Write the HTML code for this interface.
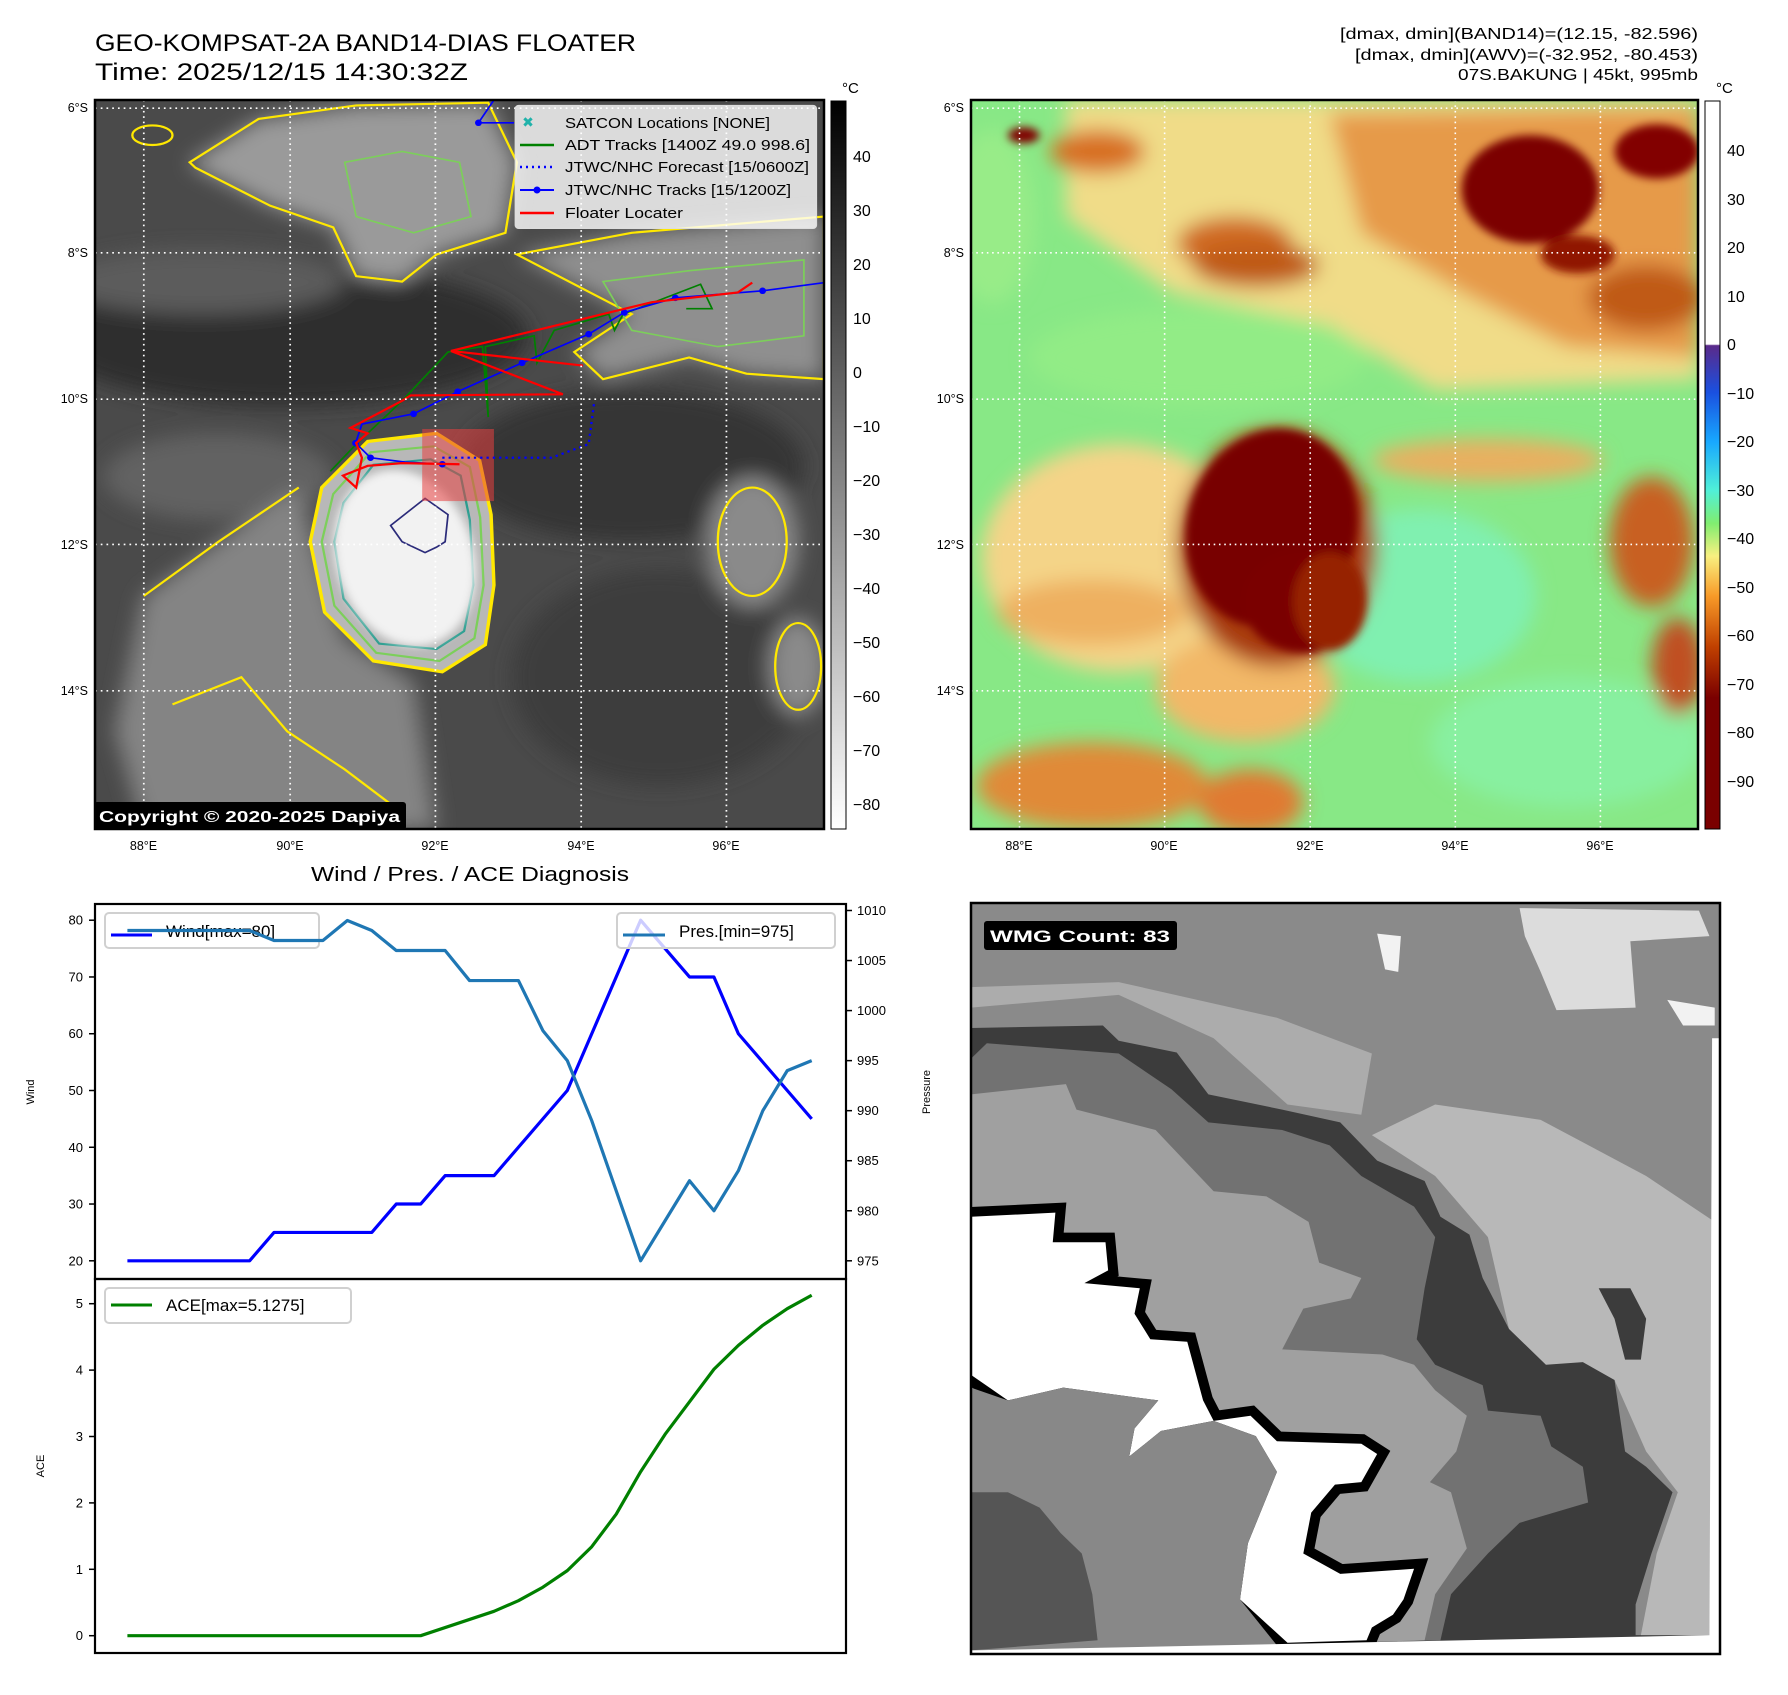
<!DOCTYPE html>
<html><head><meta charset="utf-8">
<style>
html,body{margin:0;padding:0;background:#fff;}
svg text{font-family:"Liberation Sans","DejaVu Sans",sans-serif;}
</style></head>
<body>
<svg id="root" xmlns="http://www.w3.org/2000/svg" width="1788" height="1690" viewBox="0 0 1788 1690">
<defs>
  <filter id="blur1" x="-20%" y="-20%" width="140%" height="140%"><feGaussianBlur stdDeviation="18"/></filter>
  <filter id="blur2" x="-20%" y="-20%" width="140%" height="140%"><feGaussianBlur stdDeviation="8"/></filter>
  <linearGradient id="cbGray" x1="0" y1="0" x2="0" y2="1">
    <stop offset="0" stop-color="#000"/><stop offset="1" stop-color="#fff"/>
  </linearGradient>
  <linearGradient id="cbColor" x1="0" y1="0" x2="0" y2="1">
    <stop offset="0" stop-color="#fff"/>
    <stop offset="0.334" stop-color="#fff"/>
    <stop offset="0.336" stop-color="#5a2a8a"/>
    <stop offset="0.40" stop-color="#1a50e0"/>
    <stop offset="0.468" stop-color="#18a8ff"/>
    <stop offset="0.535" stop-color="#50f0d8"/>
    <stop offset="0.58" stop-color="#80ee70"/>
    <stop offset="0.625" stop-color="#f8f080"/>
    <stop offset="0.68" stop-color="#f89a28"/>
    <stop offset="0.75" stop-color="#c04000"/>
    <stop offset="0.82" stop-color="#7a0000"/>
    <stop offset="1" stop-color="#7a0000"/>
  </linearGradient>
</defs>

<!-- Titles -->
<text x="95" y="51" font-size="24" textLength="541" lengthAdjust="spacingAndGlyphs">GEO-KOMPSAT-2A BAND14-DIAS FLOATER</text>
<text x="95" y="80" font-size="24" textLength="373" lengthAdjust="spacingAndGlyphs">Time: 2025/12/15 14:30:32Z</text>
<text x="1698" y="39" font-size="16" text-anchor="end" textLength="358" lengthAdjust="spacingAndGlyphs">[dmax, dmin](BAND14)=(12.15, -82.596)</text>
<text x="1698" y="60" font-size="16" text-anchor="end" textLength="343" lengthAdjust="spacingAndGlyphs">[dmax, dmin](AWV)=(-32.952, -80.453)</text>
<text x="1698" y="80" font-size="16" text-anchor="end" textLength="240" lengthAdjust="spacingAndGlyphs">07S.BAKUNG | 45kt, 995mb</text>

<!-- MAP 1 -->
<svg x="95" y="100" width="729" height="729" viewBox="165 185 1270 1345" preserveAspectRatio="none">
  <rect x="165" y="185" width="1270" height="1345" fill="#4a4a4a"/>
  <g filter="url(#blur1)">
    <ellipse cx="500" cy="620" rx="420" ry="130" fill="#2e2e2e"/>
    <ellipse cx="1100" cy="860" rx="300" ry="140" fill="#353535"/>
    <ellipse cx="1150" cy="1250" rx="260" ry="200" fill="#3c3c3c"/>
    <ellipse cx="350" cy="520" rx="250" ry="60" fill="#5c5c5c"/>
    <ellipse cx="380" cy="880" rx="200" ry="80" fill="#626262"/>
    <polygon points="330,300 450,220 620,195 850,190 900,300 880,430 760,470 700,520 620,510 580,420 470,380 340,310" fill="#9a9a9a"/>
    <polygon points="900,470 1100,430 1435,400 1435,700 1300,690 1200,660 1050,700 1000,650 1100,580" fill="#8f8f8f"/>
    <polygon points="250,1100 380,1000 520,900 560,1050 600,1180 720,1260 760,1530 250,1530 200,1350" fill="#848484"/>
    <ellipse cx="1310" cy="1000" rx="80" ry="120" fill="#8a8a8a"/>
    <ellipse cx="1390" cy="1230" rx="50" ry="90" fill="#8a8a8a"/>
  </g>
  <g fill="none" stroke="#ffe800" stroke-width="4">
    <polygon points="330,300 450,220 620,195 850,190 900,300 880,430 760,470 700,520 620,510 580,420 470,380 340,310"/>
    <polygon points="900,470 1100,430 1435,400 1435,700 1300,690 1200,660 1050,700 1000,650 1100,580"/>
    <ellipse cx="265" cy="250" rx="35" ry="18"/>
    <ellipse cx="1310" cy="1000" rx="60" ry="100"/>
    <ellipse cx="1390" cy="1230" rx="40" ry="80"/>
    <polyline points="250,1100 380,1000 520,900"/>
    <polyline points="300,1300 420,1250 500,1350 600,1420 700,1500"/>
  </g>
  <g fill="none" stroke="#7ccf5a" stroke-width="3">
    <polygon points="600,300 700,280 800,300 820,400 720,430 620,400"/>
    <polygon points="1050,520 1200,500 1400,480 1400,620 1250,640 1100,610"/>
  </g>
  <path d="M560,900 L640,815 L760,800 L835,850 L855,950 L860,1080 L845,1190 L770,1240 L650,1220 L565,1130 L540,1000 Z" fill="#b8b8b8" stroke="#ffe800" stroke-width="6"/>
  <path d="M580,912 L645,835 L755,824 L818,862 L836,955 L842,1080 L826,1178 L765,1220 L655,1205 L582,1118 L560,1000 Z" fill="none" stroke="#7ccf5a" stroke-width="4"/>
  <path d="M598,928 L650,858 L750,848 L802,878 L818,960 L824,1080 L808,1165 L760,1198 L660,1188 L598,1105 L582,1000 Z" fill="none" stroke="#2a9d8f" stroke-width="4"/>
  <ellipse cx="705" cy="1030" rx="120" ry="165" transform="rotate(-15 705 1030)" fill="#f2f2f2" filter="url(#blur2)"/>
  <path d="M680,970 L740,920 L780,950 L775,1000 L760,1010 L740,1020 L700,1000 Z" fill="none" stroke="#2b2b7a" stroke-width="3"/>
  <rect x="735" y="792" width="125" height="133" fill="#e84040" fill-opacity="0.55"/>
  <polyline points="575,870 620,820 700,740 780,650 840,640 850,770 845,640 930,620 935,670 965,610 1060,580 1070,610 1085,580 1220,525 1240,570 1195,570" fill="none" stroke="#008000" stroke-width="3"/>
  <polyline points="770,845 960,845 1025,820 1035,740" fill="none" stroke="#0000ff" stroke-width="4" stroke-dasharray="4 7"/>
  <polyline points="1435,522 1328,537 1176,550 1087,577 1025,617 909,670 797,723 720,764 630,783 619,818 645,845 705,853 770,857" fill="none" stroke="#0000ff" stroke-width="3"/>
  <polyline points="860,185 833,227 895,227" fill="none" stroke="#0000ff" stroke-width="3"/>
  <g fill="#0000ff">
    <circle cx="1328" cy="537" r="6"/><circle cx="1176" cy="550" r="6"/><circle cx="1087" cy="577" r="6"/><circle cx="1025" cy="617" r="6"/><circle cx="909" cy="670" r="6"/><circle cx="797" cy="723" r="6"/><circle cx="720" cy="764" r="6"/><circle cx="619" cy="818" r="6"/><circle cx="645" cy="845" r="6"/><circle cx="770" cy="857" r="6"/><circle cx="833" cy="227" r="6"/>
  </g>
  <polyline points="1310,522 1285,540 1135,558 785,648 1015,675 785,648 980,728 715,730 700,740 610,790 640,800 620,818 630,845 620,900 597,878 640,860 700,855 800,857" fill="none" stroke="#ff0000" stroke-width="4"/>
  <g stroke="#fff" stroke-width="3" stroke-dasharray="3 7">
    <line x1="250" y1="185" x2="250" y2="1530"/><line x1="505" y1="185" x2="505" y2="1530"/><line x1="758" y1="185" x2="758" y2="1530"/><line x1="1012" y1="185" x2="1012" y2="1530"/><line x1="1265" y1="185" x2="1265" y2="1530"/>
    <line x1="165" y1="200" x2="1435" y2="200"/><line x1="165" y1="467" x2="1435" y2="467"/><line x1="165" y1="737" x2="1435" y2="737"/><line x1="165" y1="1005" x2="1435" y2="1005"/><line x1="165" y1="1275" x2="1435" y2="1275"/>
  </g>
  <g>
    <rect x="897" y="195" width="525" height="227" rx="6" fill="#fff" fill-opacity="0.8" stroke="#ddd" stroke-width="2"/>
  </g>
</svg>
<rect x="95" y="100" width="729" height="729" fill="none" stroke="#000" stroke-width="2.5"/>
<g font-size="14.5">
  <text x="528" y="127" fill="#20b2aa" font-size="14" font-weight="bold" text-anchor="middle">✖</text>
  <text x="565" y="128" textLength="205" lengthAdjust="spacingAndGlyphs">SATCON Locations [NONE]</text>
  <line x1="520" y1="145" x2="554" y2="145" stroke="#008000" stroke-width="2.5"/>
  <text x="565" y="150" textLength="245" lengthAdjust="spacingAndGlyphs">ADT Tracks [1400Z 49.0 998.6]</text>
  <line x1="520" y1="167" x2="554" y2="167" stroke="#0000ff" stroke-width="2.5" stroke-dasharray="2 4"/>
  <text x="565" y="172" textLength="244" lengthAdjust="spacingAndGlyphs">JTWC/NHC Forecast [15/0600Z]</text>
  <line x1="520" y1="190" x2="554" y2="190" stroke="#0000ff" stroke-width="2"/><circle cx="537" cy="190" r="3.5" fill="#0000ff"/>
  <text x="565" y="195" textLength="226" lengthAdjust="spacingAndGlyphs">JTWC/NHC Tracks [15/1200Z]</text>
  <line x1="520" y1="213" x2="554" y2="213" stroke="#ff0000" stroke-width="2.5"/>
  <text x="565" y="218" textLength="118" lengthAdjust="spacingAndGlyphs">Floater Locater</text>
</g>
<rect x="94" y="802" width="312" height="28" rx="3" fill="#000"/>
<text x="99" y="822" font-size="16" font-weight="bold" fill="#fff" textLength="301" lengthAdjust="spacingAndGlyphs">Copyright © 2020-2025 Dapiya</text>

<g font-size="12.5" text-anchor="end">
  <text x="88" y="112">6°S</text><text x="88" y="257">8°S</text><text x="88" y="403">10°S</text><text x="88" y="549">12°S</text><text x="88" y="695">14°S</text>
</g>
<g font-size="12.5" text-anchor="middle">
  <text x="143.5" y="850">88°E</text><text x="290" y="850">90°E</text><text x="435" y="850">92°E</text><text x="581" y="850">94°E</text><text x="726" y="850">96°E</text>
</g>
<rect x="831" y="101" width="15" height="728" fill="url(#cbGray)" stroke="#000" stroke-width="1"/>
<text x="842" y="93" font-size="15">°C</text>
<g font-size="16">
  <text x="853" y="162">40</text><text x="853" y="216">30</text><text x="853" y="270">20</text><text x="853" y="324">10</text><text x="853" y="378">0</text><text x="853" y="432">−10</text><text x="853" y="486">−20</text><text x="853" y="540">−30</text><text x="853" y="594">−40</text><text x="853" y="648">−50</text><text x="853" y="702">−60</text><text x="853" y="756">−70</text><text x="853" y="810">−80</text>
</g>

<!-- MAP 2 -->
<svg x="971" y="100" width="727" height="729" viewBox="20 185 1378 1345" preserveAspectRatio="none">
  <rect x="20" y="185" width="1378" height="1345" fill="#88e886"/>
  <g filter="url(#blur1)">
    <ellipse cx="870" cy="1100" rx="220" ry="160" fill="#80f0b0"/>
    <ellipse cx="1150" cy="1370" rx="260" ry="120" fill="#88f0a0"/>
    <ellipse cx="450" cy="660" rx="320" ry="90" fill="#92ec86"/>
    <polygon points="200,185 1398,185 1398,700 900,720 700,600 400,540 200,400" fill="#f0dc88"/>
    <ellipse cx="60" cy="400" rx="80" ry="160" fill="#98ec88"/>
    <ellipse cx="300" cy="1030" rx="260" ry="210" fill="#f4d488"/>
    <ellipse cx="250" cy="1130" rx="180" ry="60" fill="#eeb060"/>
    <ellipse cx="540" cy="1270" rx="170" ry="100" fill="#f2b868"/>
    <polygon points="700,210 1398,200 1398,660 1150,640 950,540 760,430" fill="#e69a48"/>
    <ellipse cx="260" cy="280" rx="90" ry="40" fill="#d87020"/>
    <ellipse cx="520" cy="450" rx="110" ry="50" fill="#d06a20"/>
    <ellipse cx="560" cy="490" rx="120" ry="40" fill="#c05a18"/>
    <ellipse cx="1300" cy="550" rx="110" ry="60" fill="#c05a18"/>
    <ellipse cx="250" cy="1450" rx="220" ry="80" fill="#e08a38"/>
    <ellipse cx="550" cy="1480" rx="100" ry="60" fill="#e07a30"/>
    <ellipse cx="1310" cy="1000" rx="80" ry="120" fill="#c86020"/>
    <ellipse cx="1360" cy="1230" rx="50" ry="90" fill="#c05020"/>
    <ellipse cx="1000" cy="850" rx="220" ry="40" fill="#e8b060"/>
    <ellipse cx="600" cy="1010" rx="190" ry="220" fill="#a83a08"/>
  </g>
  <g filter="url(#blur2)">
    <ellipse cx="590" cy="975" rx="160" ry="185" transform="rotate(20 590 975)" fill="#780000"/>
    <ellipse cx="650" cy="1110" rx="115" ry="95" fill="#7a0400"/>
    <ellipse cx="700" cy="1110" rx="70" ry="90" fill="#962000"/>
    <ellipse cx="1080" cy="350" rx="130" ry="100" fill="#7c0000"/>
    <ellipse cx="1320" cy="280" rx="80" ry="50" fill="#820400"/>
    <ellipse cx="1170" cy="470" rx="70" ry="35" fill="#901800"/>
    <ellipse cx="120" cy="250" rx="30" ry="15" fill="#800000"/>
  </g>
  <g stroke="#fff" stroke-width="3" stroke-dasharray="3 7">
    <line x1="112" y1="185" x2="112" y2="1530"/><line x1="387" y1="185" x2="387" y2="1530"/><line x1="663" y1="185" x2="663" y2="1530"/><line x1="938" y1="185" x2="938" y2="1530"/><line x1="1213" y1="185" x2="1213" y2="1530"/>
    <line x1="20" y1="200" x2="1398" y2="200"/><line x1="20" y1="467" x2="1398" y2="467"/><line x1="20" y1="737" x2="1398" y2="737"/><line x1="20" y1="1005" x2="1398" y2="1005"/><line x1="20" y1="1275" x2="1398" y2="1275"/>
  </g>
</svg>
<rect x="971" y="100" width="727" height="729" fill="none" stroke="#000" stroke-width="2.5"/>
<g font-size="12.5" text-anchor="end">
  <text x="964" y="112">6°S</text><text x="964" y="257">8°S</text><text x="964" y="403">10°S</text><text x="964" y="549">12°S</text><text x="964" y="695">14°S</text>
</g>
<g font-size="12.5" text-anchor="middle">
  <text x="1019" y="850">88°E</text><text x="1164" y="850">90°E</text><text x="1310" y="850">92°E</text><text x="1455" y="850">94°E</text><text x="1600" y="850">96°E</text>
</g>
<rect x="1705" y="101" width="15" height="728" fill="url(#cbColor)" stroke="#000" stroke-width="1"/>
<text x="1716" y="93" font-size="15">°C</text>
<g font-size="16">
  <text x="1727" y="156">40</text><text x="1727" y="205">30</text><text x="1727" y="253">20</text><text x="1727" y="302">10</text><text x="1727" y="350">0</text><text x="1727" y="399">−10</text><text x="1727" y="447">−20</text><text x="1727" y="496">−30</text><text x="1727" y="544">−40</text><text x="1727" y="593">−50</text><text x="1727" y="641">−60</text><text x="1727" y="690">−70</text><text x="1727" y="738">−80</text><text x="1727" y="787">−90</text>
</g>

<!-- WMG panel -->
<svg x="971" y="903" width="749" height="751" viewBox="20 25 1420 1472" preserveAspectRatio="none">
  <rect x="20" y="25" width="1420" height="1472" fill="#8a8a8a"/>
  <polygon points="780,480 900,560 1000,680 1040,860 1100,930 1240,960 1300,1100 1360,1180 1430,1180 1430,650 1300,560 1100,450 900,420" fill="#b8b8b8"/>
  <polygon points="20,230 300,205 480,290 620,420 760,440 780,320 600,250 300,180 20,190" fill="#acacac"/>
  <polygon points="1060,35 1400,40 1420,90 1270,100 1280,230 1130,235 1100,160 1070,90" fill="#dcdcdc"/>
  <polygon points="790,85 835,90 830,160 805,155" fill="#f2f2f2"/>
  <polygon points="1340,215 1430,230 1430,265 1370,265" fill="#f2f2f2"/>
  <polygon points="20,270 270,265 300,295 410,318 470,400 610,430 720,455 790,530 880,570 910,640 965,675 990,760 1040,860 1110,930 1180,925 1240,960 1260,1100 1300,1130 1350,1180 1310,1300 1280,1400 1280,1460 1430,1460 1430,1497 20,1497" fill="#3c3c3c"/>
  <polygon points="1210,780 1270,780 1300,840 1290,920 1260,920 1240,840" fill="#3c3c3c"/>
  <polygon points="20,330 50,300 300,320 400,390 470,455 610,470 700,500 760,560 860,620 900,680 880,780 865,880 900,930 990,970 1000,1020 1100,1030 1120,1090 1180,1130 1190,1200 1060,1240 1000,1300 930,1380 910,1470 20,1497" fill="#727272"/>
  <polygon points="20,400 200,380 220,430 370,470 480,590 580,600 660,650 680,730 760,760 740,800 650,820 610,900 800,910 860,930 900,980 960,1030 940,1100 890,1160 930,1180 960,1290 900,1380 880,1470 20,1497" fill="#a0a0a0"/>
  <polygon points="20,640 180,632 175,690 275,690 280,745 235,770 340,780 330,830 360,880 430,885 460,1000 480,1040 550,1030 600,1080 760,1085 790,1105 760,1160 710,1165 665,1220 650,1300 720,1340 860,1330 840,1390 820,1420 780,1445 770,1470 620,1475 530,1390 545,1280 600,1140 560,1070 480,1040 380,1060 320,1110 330,1055 375,1000 195,975 90,1000 55,975 20,950" fill="#000" stroke="#000" stroke-width="38" stroke-linejoin="miter"/>
  <polygon points="20,640 180,632 175,690 275,690 280,745 235,770 340,780 330,830 360,880 430,885 460,1000 480,1040 550,1030 600,1080 760,1085 790,1105 760,1160 710,1165 665,1220 650,1300 720,1340 860,1330 840,1390 820,1420 780,1445 770,1470 620,1475 530,1390 545,1280 600,1140 560,1070 480,1040 380,1060 320,1110 330,1055 375,1000 195,975 90,1000 55,975 20,950" fill="#fff"/>
  <polygon points="20,975 90,1000 195,975 375,1000 330,1055 320,1110 380,1060 480,1040 560,1070 600,1140 545,1280 530,1390 600,1480 20,1497" fill="#888"/>
  <polygon points="20,1180 90,1180 150,1210 190,1260 230,1300 250,1380 260,1470 20,1490" fill="#555"/>
  <polygon points="1360,1180 1430,1150 1425,1460 1290,1460 1320,1300" fill="#b8b8b8"/>
  <polygon points="1425,290 1440,290 1440,1497 20,1497 20,1490 1420,1460" fill="#fff"/>
</svg>
<rect x="971" y="903" width="749" height="751" fill="none" stroke="#000" stroke-width="2.5"/>
<rect x="984" y="921" width="193" height="29" rx="3" fill="#000"/>
<text x="990" y="942" font-size="17" font-weight="bold" fill="#fff" textLength="180" lengthAdjust="spacingAndGlyphs">WMG Count: 83</text>

<!-- Chart -->
<text x="470" y="881" font-size="20" text-anchor="middle" textLength="318" lengthAdjust="spacingAndGlyphs">Wind / Pres. / ACE Diagnosis</text>
<g id="chart"></g>
</svg>

<script>
const windKt = [20,20,20,20,20,20,25,25,25,25,25,30,30,35,35,35,40,45,50,60,70,80,75,70,70,60,55,50,45];
const presMb = [1008,1008,1008,1008,1008,1008,1007,1007,1007,1009,1008,1006,1006,1006,1003,1003,1003,998,995,989,982,975,979,983,980,984,990,994,995];
const aceVals = [0,0,0,0,0,0,0,0,0,0,0,0,0,0.1225,0.245,0.3675,0.5275,0.73,0.98,1.34,1.83,2.47,3.0325,3.5225,4.0125,4.3725,4.675,4.925,5.1275];
const windTicks = [20,30,40,50,60,70,80];
const presTicks = [975,980,985,990,995,1000,1005,1010];
const aceTicks = [0,1,2,3,4,5];
const windLegend = "Wind[max=80]";
const presLegend = "Pres.[min=975]";
const aceLegend = "ACE[max=5.1275]";

const NS = "http://www.w3.org/2000/svg";
const chart = document.getElementById('chart');
const AX = {left:95, right:846, top1:904, mid:1279, bot:1653};
const xS = i => 127.4 + i * (811.7 - 127.4) / (windKt.length - 1);
const yW = v => 1260.8 - (v - 20) * (340.6 / 60);
const yP = v => 1260.8 - (v - 975) * (350.3 / 35);
const yA = v => 1635.7 - v * (332 / 5);

function mk(tag, attrs, parent) {
  const e = document.createElementNS(NS, tag);
  for (const k in attrs) e.setAttribute(k, attrs[k]);
  (parent || chart).appendChild(e);
  return e;
}
function txt(x, y, s, size, anchor, parent) {
  const t = mk('text', {x:x, y:y, 'font-size':size, 'text-anchor':anchor || 'start'}, parent);
  t.textContent = s;
  return t;
}

const p1 = mk('rect', {x:AX.left, y:AX.top1, width:AX.right-AX.left, height:AX.mid-AX.top1, fill:'#fff'});


const p2 = mk('rect', {x:AX.left, y:AX.mid, width:AX.right-AX.left, height:AX.bot-AX.mid, fill:'#fff'});



windTicks.forEach(v => {
  const y = yW(v);
  const tk = mk('line', {x1:AX.left-6, x2:AX.left, y1:y, y2:y, stroke:'#000', 'stroke-width':1.5});
  
  
  const lb = txt(AX.left-12, y+4.5, String(v), 13, 'end');
  
  
});
presTicks.forEach(v => {
  const y = yP(v);
  const tk = mk('line', {x1:AX.right, x2:AX.right+6, y1:y, y2:y, stroke:'#000', 'stroke-width':1.5});
  
  
  const lb = txt(AX.right+11, y+4.5, String(v), 13, 'start');
  
  
});
aceTicks.forEach(v => {
  const y = yA(v);
  const tk = mk('line', {x1:AX.left-6, x2:AX.left, y1:y, y2:y, stroke:'#000', 'stroke-width':1.5});
  
  
  const lb = txt(AX.left-12, y+4.5, String(v), 13, 'end');
  
  
});

const wl = txt(0, 0, 'Wind', 11, 'middle');
wl.setAttribute('transform', 'translate(34,1092) rotate(-90)');


const pl = txt(0, 0, 'Pressure', 11, 'middle');
pl.setAttribute('transform', 'translate(930,1092) rotate(-90)');


const al = txt(0, 0, 'ACE', 11, 'middle');
al.setAttribute('transform', 'translate(44,1466) rotate(-90)');



const wlb = mk('rect', {x:105, y:913, width:214, height:35, rx:4, fill:'#fff', 'fill-opacity':0.8, stroke:'#d0d0d0', 'stroke-width':2});


mk('line', {x1:111, x2:152, y1:935, y2:935, stroke:'#0000ff', 'stroke-width':3});
const wlt = txt(166, 937, windLegend, 17, 'start');



const wLine = mk('polyline', {points: windKt.map((v,i)=>xS(i)+','+yW(v)).join(' '), fill:'none', stroke:'#0000ff', 'stroke-width':3.2, 'stroke-linejoin':'round'});


const pLine = mk('polyline', {points: presMb.map((v,i)=>xS(i)+','+yP(v)).join(' '), fill:'none', stroke:'#1f77b4', 'stroke-width':3.2, 'stroke-linejoin':'round'});


const aLine = mk('polyline', {points: aceVals.map((v,i)=>xS(i)+','+yA(v)).join(' '), fill:'none', stroke:'#008000', 'stroke-width':3.2, 'stroke-linejoin':'round'});



const plb = mk('rect', {x:617, y:913, width:218, height:35, rx:4, fill:'#fff', 'fill-opacity':0.8, stroke:'#d0d0d0', 'stroke-width':2});


mk('line', {x1:623, x2:665, y1:935, y2:935, stroke:'#1f77b4', 'stroke-width':3});
const plt = txt(679, 937, presLegend, 17, 'start');



const alb = mk('rect', {x:105, y:1288, width:246, height:35, rx:4, fill:'#fff', 'fill-opacity':0.8, stroke:'#d0d0d0', 'stroke-width':2});


mk('line', {x1:111, x2:152, y1:1305, y2:1305, stroke:'#008000', 'stroke-width':3});
const alt = txt(166, 1311, aceLegend, 17, 'start');



const f1 = mk('rect', {x:AX.left, y:AX.top1, width:AX.right-AX.left, height:AX.mid-AX.top1, fill:'none', stroke:'#000', 'stroke-width':2.2});


const f2 = mk('rect', {x:AX.left, y:AX.mid, width:AX.right-AX.left, height:AX.bot-AX.mid, fill:'none', stroke:'#000', 'stroke-width':2.2});


</script>
</body></html>
